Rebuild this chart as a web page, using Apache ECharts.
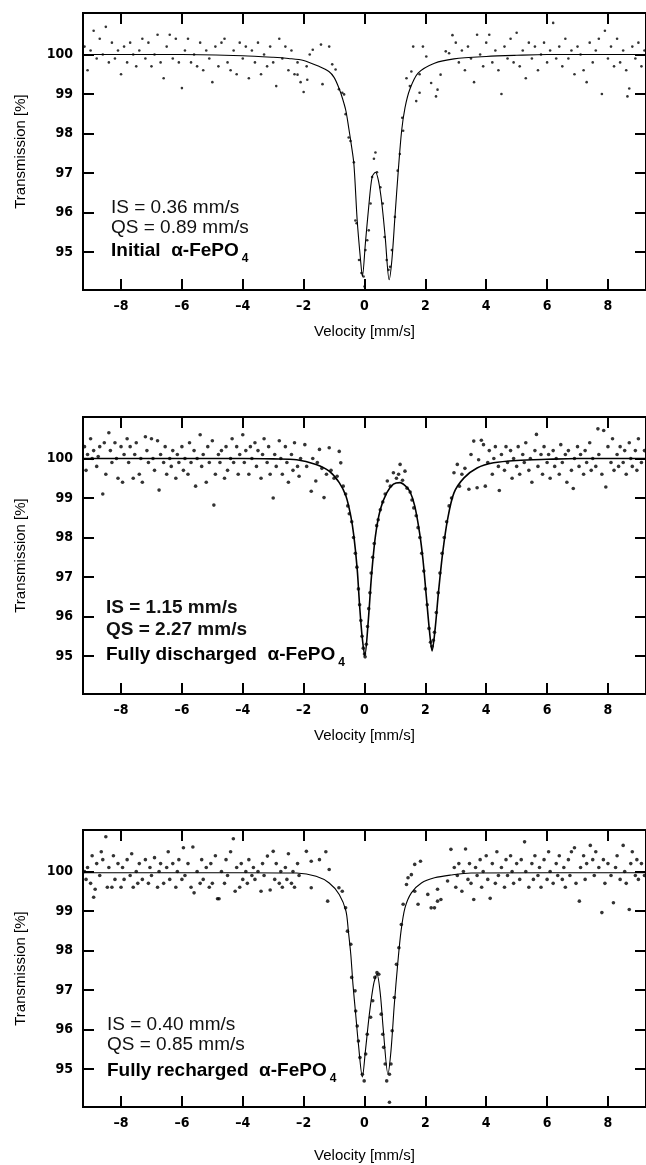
<!DOCTYPE html>
<html>
<head>
<meta charset="utf-8">
<script src="https://cdn.jsdelivr.net/npm/echarts@6/dist/echarts.min.js"></script>
<style>
html, body { margin: 0; padding: 0; background: #fff; }
#main { width: 646px; height: 1165px; }
</style>
</head>
<body>
<div id="main"></div>
<script>
// tick values
var xTicks = [-8, -6, -4, -2, 0, 2, 4, 6, 8];
var yTicks = [95, 96, 97, 98, 99, 100];

// fitted doublets [velocity, transmission]
var fit1 = [[-9.25,100.0],[-6,100.0],[-4,99.97],[-3,99.93],[-2.5,99.9],[-2,99.85],[-1.5,99.7],[-1.17,99.57],[-1.0,99.42],[-0.84,99.15],[-0.72,98.88],[-0.61,98.57],[-0.52,98.15],[-0.45,97.8],[-0.35,97.24],[-0.24,95.8],[-0.13,94.8],[-0.07,94.38],[0.03,95.23],[0.14,96.16],[0.25,96.9],[0.36,97.02],[0.46,96.8],[0.57,96.23],[0.68,95.38],[0.81,94.3],[0.9,94.8],[1.0,95.89],[1.11,97.06],[1.22,98.07],[1.33,98.65],[1.49,99.12],[1.76,99.53],[2.3,99.78],[2.94,99.89],[4,99.95],[5,99.98],[6,100.0],[9.25,100.0]];
var fit2 = [[-9.25,100.0],[-4,100.0],[-3,99.99],[-2.23,99.97],[-1.59,99.85],[-1.16,99.68],[-0.83,99.39],[-0.61,99.05],[-0.45,98.54],[-0.35,98.04],[-0.24,97.2],[-0.16,96.27],[-0.08,95.51],[0.01,95.01],[0.12,95.85],[0.23,97.03],[0.36,98.04],[0.52,98.71],[0.73,99.13],[0.95,99.35],[1.17,99.39],[1.35,99.3],[1.49,99.17],[1.65,98.8],[1.81,98.12],[1.92,97.45],[2.03,96.52],[2.14,95.6],[2.22,95.13],[2.32,95.68],[2.43,96.61],[2.57,97.62],[2.73,98.46],[2.94,99.13],[3.27,99.51],[3.7,99.76],[4.24,99.89],[5,99.95],[6,99.98],[7,100.0],[9.25,100.0]];
var fit3 = [[-9.25,99.97],[-4,99.97],[-2.23,99.96],[-1.59,99.88],[-1.16,99.71],[-0.83,99.42],[-0.61,99.0],[-0.53,98.49],[-0.45,97.9],[-0.38,97.15],[-0.29,96.39],[-0.2,95.63],[-0.07,94.8],[0.03,95.46],[0.16,96.39],[0.3,97.15],[0.41,97.4],[0.52,96.9],[0.62,95.97],[0.77,94.87],[0.87,95.46],[0.98,96.64],[1.09,97.65],[1.2,98.49],[1.33,99.08],[1.54,99.46],[1.87,99.71],[2.3,99.84],[2.84,99.91],[3.5,99.96],[9.25,99.97]];

// measured points [velocity, transmission]
var points1 = [[-9.2,100.2],[-9.1,99.6],[-9.0,100.1],[-8.9,100.6],[-8.8,99.9],[-8.7,100.4],[-8.6,100.0],[-8.5,100.7],[-8.4,99.8],[-8.3,100.3],[-8.2,99.9],[-8.1,100.1],[-8.0,99.5],[-7.9,100.2],[-7.8,99.8],[-7.7,100.3],[-7.6,100.0],[-7.5,99.7],[-7.4,100.1],[-7.3,100.4],[-7.2,99.9],[-7.1,100.3],[-7.0,99.7],[-6.9,100.0],[-6.8,100.5],[-6.7,99.8],[-6.6,99.4],[-6.5,100.2],[-6.4,100.5],[-6.3,99.9],[-6.2,100.4],[-6.1,99.8],[-6.0,99.15],[-5.9,100.1],[-5.8,100.4],[-5.7,99.8],[-5.6,100.0],[-5.5,99.7],[-5.4,100.3],[-5.3,99.6],[-5.2,100.1],[-5.1,99.9],[-5.0,99.3],[-4.9,100.2],[-4.8,99.7],[-4.7,100.3],[-4.6,100.4],[-4.5,99.8],[-4.4,99.6],[-4.3,100.1],[-4.2,99.5],[-4.1,100.3],[-4.0,99.9],[-3.9,100.2],[-3.8,99.4],[-3.7,100.1],[-3.6,99.8],[-3.5,100.3],[-3.4,99.5],[-3.3,100.0],[-3.2,99.7],[-3.1,100.2],[-3.0,99.8],[-2.9,99.2],[-2.8,100.4],[-2.7,99.9],[-2.6,100.2],[-2.5,99.6],[-2.4,100.1],[-2.3,99.5],[-2.2,99.8],[-2.1,99.3],[-2.0,99.05],[-1.9,99.7],[-1.8,100.0],
  [-2.2,99.49],[-1.88,99.36],[-1.7,100.12],[-1.43,100.25],[-1.38,99.25],[-1.16,100.2],[-1.06,99.75],[-0.95,99.62],[-0.84,99.12],[-0.73,99.03],[-0.67,98.99],[-0.62,98.49],[-0.52,97.9],[-0.46,97.81],[-0.35,97.27],[-0.3,95.8],[-0.26,95.73],[-0.18,94.8],[-0.1,94.47],[-0.03,94.38],[0.0,94.13],[0.03,95.05],[0.09,95.3],[0.14,95.55],[0.2,96.23],[0.25,96.9],[0.31,97.36],[0.36,97.52],[0.41,97.02],[0.52,96.64],[0.6,96.23],[0.66,95.38],[0.73,94.8],[0.79,94.55],[0.84,94.63],[0.9,95.05],[1.0,95.89],[1.09,97.06],[1.16,97.48],[1.24,98.4],[1.27,98.07],[1.38,99.4],[1.49,99.2],[1.54,99.57],[1.6,100.2],[1.7,98.82],[1.81,99.03],[1.81,99.5],[1.92,100.2],[2.03,99.95],[2.19,99.28],[2.35,98.94],[2.4,99.11],[2.5,99.49],[2.67,100.08],[2.78,100.03],[2.89,100.49],
  [3.0,100.3],[3.1,99.8],[3.2,100.1],[3.3,99.6],[3.4,100.2],[3.5,99.9],[3.6,99.3],[3.7,100.5],[3.8,100.0],[3.9,99.7],[4.0,100.3],[4.1,100.5],[4.2,99.8],[4.3,100.1],[4.4,99.6],[4.5,99.0],[4.6,100.2],[4.7,99.9],[4.8,100.4],[4.9,99.8],[5.0,100.55],[5.1,99.7],[5.2,100.1],[5.3,99.4],[5.4,100.3],[5.5,99.9],[5.6,100.2],[5.7,99.6],[5.8,100.0],[5.9,100.3],[6.0,99.8],[6.1,100.1],[6.2,100.8],[6.3,99.9],[6.4,100.2],[6.5,99.7],[6.6,100.4],[6.7,99.9],[6.8,100.1],[6.9,99.5],[7.0,100.2],[7.1,100.0],[7.2,99.6],[7.3,99.3],[7.4,100.3],[7.5,99.8],[7.6,100.1],[7.7,100.4],[7.8,99.0],[7.9,100.6],[8.0,99.9],[8.1,100.2],[8.2,99.7],[8.3,100.4],[8.4,99.8],[8.5,100.1],[8.6,99.6],[8.64,98.94],[8.7,99.14],[8.8,100.2],[8.9,99.9],[9.0,100.3],[9.1,99.7],[9.2,100.1]];

var points2 = [[-9.2,100.3],[-9.15,99.7],[-9.1,100.1],[-9.0,100.5],[-8.95,100.0],[-8.9,100.2],[-8.8,99.8],[-8.75,100.05],[-8.7,100.3],[-8.6,99.1],[-8.55,100.4],[-8.5,99.6],[-8.4,100.65],[-8.35,100.2],[-8.3,99.9],[-8.2,100.4],[-8.15,100.0],[-8.1,99.5],[-8.0,100.3],[-7.95,99.4],[-7.9,100.1],[-7.8,100.5],[-7.75,99.9],[-7.7,100.3],[-7.6,99.5],[-7.55,100.1],[-7.5,100.4],[-7.4,99.6],[-7.35,100.0],[-7.3,99.4],[-7.2,100.55],[-7.15,100.2],[-7.1,99.9],[-7.0,100.5],[-6.95,100.0],[-6.9,99.7],[-6.8,100.45],[-6.75,99.2],[-6.7,100.1],[-6.6,99.9],[-6.55,100.3],[-6.5,99.6],[-6.4,100.0],[-6.35,99.8],[-6.3,100.2],[-6.2,99.5],[-6.15,100.1],[-6.1,99.9],[-6.0,100.3],[-5.95,99.7],[-5.9,100.0],[-5.8,99.6],[-5.75,100.4],[-5.7,99.9],[-5.6,100.2],[-5.55,99.3],[-5.5,100.0],[-5.4,100.6],[-5.35,99.8],[-5.3,100.1],[-5.2,99.4],[-5.15,100.3],[-5.1,99.9],[-5.0,100.45],[-4.95,98.82],[-4.9,99.6],[-4.8,100.1],[-4.75,99.9],[-4.7,100.2],[-4.6,99.5],[-4.55,100.3],[-4.5,99.7],[-4.4,100.0],[-4.35,100.5],[-4.3,99.9],[-4.2,100.3],[-4.15,99.6],[-4.1,100.1],[-4.0,100.6],[-3.95,99.9],[-3.9,100.2],[-3.8,99.6],[-3.75,100.3],[-3.7,100.0],[-3.6,100.4],[-3.55,99.8],[-3.5,100.2],[-3.4,99.5],[-3.35,100.1],[-3.3,100.5],[-3.2,99.9],[-3.15,100.3],[-3.1,99.6],[-3.0,99.0],[-2.95,100.1],[-2.9,99.8],[-2.8,100.45],[-2.75,100.0],[-2.7,99.6],[-2.6,100.3],[-2.55,99.9],[-2.5,99.4],[-2.4,100.1],[-2.35,99.7],[-2.3,100.4],[-2.2,99.8],[-2.15,99.55],[-2.1,100.0],
  [-1.96,100.35],[-1.9,99.8],[-1.75,99.17],[-1.7,100.0],[-1.6,99.43],[-1.55,99.9],[-1.48,100.23],[-1.4,99.75],[-1.33,99.01],[-1.25,99.6],[-1.16,100.27],[-1.1,99.7],[-1.0,99.5],[-0.9,99.55],[-0.83,100.18],[-0.78,99.89],[-0.7,99.3],[-0.62,99.1],[-0.55,98.8],[-0.5,98.6],[-0.42,98.4],[-0.36,98.0],[-0.3,97.6],[-0.25,97.25],[-0.2,96.7],[-0.16,96.3],[-0.12,95.9],[-0.08,95.5],[-0.04,95.2],[0.0,95.05],[0.02,94.98],[0.06,95.3],[0.1,95.75],[0.14,96.2],[0.18,96.6],[0.22,97.1],[0.27,97.5],[0.32,97.85],[0.4,98.3],[0.45,98.45],[0.52,98.7],[0.6,98.9],[0.68,99.1],[0.75,99.43],[0.85,99.3],[0.95,99.64],[1.05,99.5],[1.12,99.6],[1.17,99.85],[1.25,99.45],[1.33,99.68],[1.4,99.25],[1.5,99.15],[1.56,98.95],[1.62,98.75],[1.7,98.55],[1.76,98.25],[1.82,98.0],[1.88,97.6],[1.95,97.15],[2.0,96.7],[2.06,96.3],[2.12,95.7],[2.17,95.35],[2.22,95.25],[2.26,95.4],[2.3,95.6],[2.36,96.1],[2.42,96.6],[2.48,97.1],[2.55,97.6],[2.62,98.0],[2.7,98.4],[2.78,98.8],[2.86,99.0],[2.94,99.64],[3.05,99.85],[3.12,99.3],[3.2,99.6],[3.3,99.75],[3.43,99.22],[3.5,100.1],[3.59,100.44],[3.7,99.26],[3.75,99.97],[3.84,100.46],[3.91,100.35],[3.97,99.3],
  [4.05,99.9],[4.1,100.2],[4.2,99.6],[4.25,100.0],[4.3,100.3],[4.4,99.8],[4.43,99.19],[4.5,100.1],[4.6,99.7],[4.65,100.3],[4.7,99.9],[4.8,100.2],[4.85,99.5],[4.9,100.0],[5.0,99.8],[5.05,100.3],[5.1,99.6],[5.2,100.1],[5.25,99.9],[5.3,100.4],[5.4,99.7],[5.45,100.0],[5.5,99.4],[5.6,100.2],[5.65,100.61],[5.7,99.8],[5.8,100.1],[5.85,99.6],[5.9,100.3],[6.0,99.9],[6.05,100.1],[6.1,99.5],[6.2,100.2],[6.25,99.8],[6.3,100.0],[6.4,99.6],[6.45,100.35],[6.5,99.9],[6.6,100.1],[6.65,99.4],[6.7,100.2],[6.8,99.7],[6.86,99.24],[6.9,100.0],[7.0,100.3],[7.05,99.8],[7.1,100.1],[7.2,99.6],[7.25,100.2],[7.3,99.9],[7.4,100.4],[7.45,99.7],[7.5,100.0],[7.6,99.8],[7.67,100.75],[7.7,100.1],[7.8,99.6],[7.86,100.71],[7.93,99.28],[8.0,100.3],[8.1,99.9],[8.15,100.5],[8.2,99.7],[8.3,100.1],[8.35,99.8],[8.4,100.3],[8.5,99.9],[8.55,100.2],[8.6,99.6],[8.7,100.4],[8.75,100.0],[8.8,99.8],[8.9,100.2],[8.95,99.7],[9.0,100.5],[9.1,99.9],[9.2,100.2]];

var points3 = [[-9.2,100.0],[-9.15,99.8],[-9.1,100.1],[-9.0,99.7],[-8.95,100.4],[-8.9,99.35],[-8.85,99.55],[-8.8,100.2],[-8.7,99.9],[-8.65,100.5],[-8.6,100.3],[-8.5,100.88],[-8.45,99.6],[-8.4,100.1],[-8.3,99.6],[-8.25,100.4],[-8.2,99.8],[-8.1,100.2],[-8.0,99.6],[-7.95,100.1],[-7.9,99.8],[-7.8,100.3],[-7.7,99.9],[-7.65,100.45],[-7.6,99.6],[-7.5,100.0],[-7.45,99.7],[-7.4,100.2],[-7.3,99.8],[-7.2,100.3],[-7.1,99.7],[-7.05,100.1],[-7.0,99.9],[-6.9,100.35],[-6.8,99.6],[-6.75,100.0],[-6.7,100.2],[-6.6,99.7],[-6.5,100.1],[-6.45,100.5],[-6.4,99.8],[-6.3,100.2],[-6.2,99.6],[-6.15,100.0],[-6.1,100.3],[-6.0,99.8],[-5.95,100.6],[-5.9,99.9],[-5.8,100.2],[-5.7,99.6],[-5.64,100.62],[-5.6,99.46],[-5.5,100.0],[-5.4,99.7],[-5.35,100.3],[-5.3,99.8],[-5.2,100.1],[-5.1,99.6],[-5.05,100.2],[-5.0,99.7],[-4.9,100.4],[-4.83,99.31],[-4.78,99.31],[-4.7,100.0],[-4.6,99.7],[-4.55,100.3],[-4.5,99.9],[-4.4,100.5],[-4.31,100.83],[-4.25,99.5],[-4.2,100.1],[-4.1,99.6],[-4.05,100.2],[-4.0,99.8],[-3.9,100.0],[-3.85,99.7],[-3.8,100.3],[-3.7,99.9],[-3.65,100.1],[-3.6,99.8],[-3.5,100.0],[-3.4,99.5],[-3.35,100.2],[-3.3,99.9],[-3.19,100.39],[-3.1,99.53],[-3.0,100.51],[-2.95,99.8],[-2.9,100.2],[-2.8,99.7],[-2.75,100.0],[-2.7,99.6],[-2.6,100.1],[-2.55,99.8],[-2.5,100.45],[-2.4,99.7],[-2.35,100.0],[-2.3,99.6],[-2.2,100.2],[-2.15,99.9],
  [-1.91,100.51],[-1.75,100.26],[-1.75,99.59],[-1.48,100.3],[-1.27,100.5],[-1.21,99.25],[-1.16,100.05],[-0.84,99.59],[-0.73,99.5],[-0.62,99.08],[-0.56,98.49],[-0.45,98.16],[-0.42,97.32],[-0.31,96.98],[-0.29,96.47],[-0.24,96.09],[-0.2,95.71],[-0.15,95.29],[-0.07,94.87],[-0.01,94.7],[0.04,95.38],[0.09,95.88],[0.2,96.31],[0.27,96.73],[0.34,97.32],[0.41,97.44],[0.47,97.4],[0.55,96.39],[0.6,95.88],[0.63,95.55],[0.68,95.13],[0.73,94.7],[0.82,94.87],[0.82,94.16],[0.87,95.13],[0.91,95.97],[0.98,96.81],[1.05,97.65],[1.13,98.07],[1.21,98.66],[1.27,99.17],[1.38,99.67],[1.43,99.84],[1.54,99.92],[1.65,100.18],[1.65,99.5],[1.76,99.17],[1.84,100.26],[2.08,99.42],[2.19,99.08],[2.3,99.08],[2.4,99.25],[2.4,99.55],[2.51,99.29],[2.73,99.76],[2.84,100.56],
  [2.95,100.1],[3.0,99.6],[3.05,99.9],[3.1,100.2],[3.2,99.5],[3.25,100.0],[3.32,100.57],[3.4,99.8],[3.45,100.2],[3.5,99.7],[3.59,99.29],[3.65,100.1],[3.7,99.9],[3.8,100.3],[3.85,99.6],[3.9,100.0],[4.0,100.4],[4.05,99.8],[4.13,99.32],[4.2,100.2],[4.3,99.7],[4.35,100.5],[4.4,99.9],[4.5,100.1],[4.6,99.6],[4.65,100.3],[4.7,99.9],[4.8,100.4],[4.85,100.0],[4.9,99.7],[5.0,100.2],[5.1,99.8],[5.15,100.3],[5.26,100.75],[5.3,100.0],[5.4,99.6],[5.5,100.2],[5.55,99.8],[5.6,100.4],[5.7,99.9],[5.75,100.1],[5.8,99.6],[5.9,100.3],[6.0,99.8],[6.05,100.5],[6.1,100.0],[6.2,99.7],[6.3,100.2],[6.35,99.9],[6.4,100.4],[6.5,99.8],[6.55,100.1],[6.6,99.6],[6.7,100.3],[6.75,99.9],[6.8,100.5],[6.9,100.6],[6.95,99.7],[7.06,99.25],[7.1,100.1],[7.2,100.4],[7.25,99.8],[7.3,100.2],[7.42,100.66],[7.5,100.3],[7.55,99.9],[7.6,100.5],[7.7,100.1],[7.8,98.96],[7.85,100.3],[7.9,99.7],[8.0,100.2],[8.1,99.9],[8.18,99.21],[8.25,100.1],[8.3,100.4],[8.4,99.8],[8.5,100.66],[8.55,100.0],[8.6,99.7],[8.7,99.04],[8.75,100.2],[8.8,100.5],[8.9,99.9],[8.95,100.3],[9.0,99.8],[9.1,100.2],[9.2,99.9]];

var notes1 = ['IS = 0.36 mm/s', 'QS = 0.89 mm/s', 'Initial  α-FePO'];
var notes2 = ['IS = 1.15 mm/s', 'QS = 2.27 mm/s', 'Fully discharged  α-FePO'];
var notes3 = ['IS = 0.40 mm/s', 'QS = 0.85 mm/s', 'Fully recharged  α-FePO'];

var myChart = echarts.init(document.getElementById('main'));

var panelTop = [13, 417, 830];
var fits = [fit1, fit2, fit3];
var pts = [points1, points2, points3];
var notes = [notes1, notes2, notes3];
var noteTop = [[198, 218, 241], [598, 620, 645], [1015, 1035, 1061]];
var noteLeft = [111, 106, 107];
var nameGapX = [34, 34, 41];
var dotSize = [2.6, 3.6, 3.6];

var tickFont = 'Liberation Sans Narrow, DejaVu Sans Condensed, sans-serif';
var textFont = 'Liberation Sans, Arial, sans-serif';

function dash(v) {
	return String(v).replace('-', '\u2013');
}

var grids = [], xAxes = [], yAxes = [], series = [], graphics = [];

panelTop.forEach(function (top, i) {
	grids.push({
		left: 83, top: top, width: 572, height: 277,
		show: true, borderColor: '#000', borderWidth: 2
	});
	var tick = { inside: true, length: 11, lineStyle: { color: '#000', width: 2 } };
	var noLine = { show: false, onZero: false };
	xAxes.push({
		gridIndex: i, type: 'value', min: -9.25, max: 9.25, position: 'bottom',
		axisLine: noLine, splitLine: { show: false },
		axisTick: Object.assign({ customValues: xTicks }, tick),
		axisLabel: {
			customValues: xTicks, formatter: dash, margin: 9,
			color: '#000', fontSize: 14, fontWeight: 'bold', fontFamily: tickFont
		},
		name: 'Velocity [mm/s]', nameLocation: 'middle', nameGap: nameGapX[i],
		nameTextStyle: { color: '#000', fontSize: 15, fontFamily: textFont }
	});
	xAxes.push({
		gridIndex: i, type: 'value', min: -9.25, max: 9.25, position: 'top',
		axisLine: noLine, splitLine: { show: false },
		axisTick: Object.assign({ customValues: xTicks }, tick),
		axisLabel: { show: false }
	});
	yAxes.push({
		gridIndex: i, type: 'value', min: 94.04, max: 101.05, position: 'left',
		axisLine: noLine, splitLine: { show: false },
		axisTick: Object.assign({ customValues: yTicks }, tick),
		axisLabel: {
			customValues: yTicks, margin: 10,
			color: '#000', fontSize: 14, fontWeight: 'bold', fontFamily: tickFont
		},
		name: 'Transmission [%]', nameLocation: 'middle', nameGap: 55, nameRotate: 90,
		nameTextStyle: { color: '#000', fontSize: 15, fontFamily: textFont }
	});
	yAxes.push({
		gridIndex: i, type: 'value', min: 94.04, max: 101.05, position: 'right',
		axisLine: noLine, splitLine: { show: false },
		axisTick: Object.assign({ customValues: yTicks }, tick),
		axisLabel: { show: false }
	});

	series.push({
		type: 'scatter', xAxisIndex: 2 * i, yAxisIndex: 2 * i,
		symbol: 'circle', symbolSize: dotSize[i],
		itemStyle: { color: '#000' },
		data: pts[i], silent: true
	});
	series.push({
		type: 'line', xAxisIndex: 2 * i, yAxisIndex: 2 * i,
		showSymbol: false, smooth: 0.3,
		lineStyle: { color: '#000', width: i === 1 ? 1.6 : 1.1 },
		data: fits[i], silent: true
	});

	var bold = i === 1 ? 'bold' : 'normal';
	graphics.push({
		type: 'text', left: noteLeft[i], top: noteTop[i][0],
		style: { text: notes[i][0], fontSize: 19, fontWeight: bold, fontFamily: textFont, fill: '#111' }
	});
	graphics.push({
		type: 'text', left: noteLeft[i], top: noteTop[i][1],
		style: { text: notes[i][1], fontSize: 19, fontWeight: bold, fontFamily: textFont, fill: '#111' }
	});
	graphics.push({
		type: 'text', left: noteLeft[i], top: noteTop[i][2],
		style: {
			text: '{b|' + notes[i][2] + '}{s|4}',
			fill: '#000',
			rich: {
				b: { fontSize: 19, fontWeight: 'bold', fontFamily: textFont, lineHeight: 22, verticalAlign: 'bottom' },
				s: { fontSize: 12, fontWeight: 'bold', fontFamily: textFont, lineHeight: 22, verticalAlign: 'bottom', padding: [0, 0, -5, 3] }
			}
		}
	});
});

myChart.setOption({
	backgroundColor: '#fff',
	animation: false,
	grid: grids,
	xAxis: xAxes,
	yAxis: yAxes,
	series: series,
	graphic: graphics
});
</script>
</body>
</html>
